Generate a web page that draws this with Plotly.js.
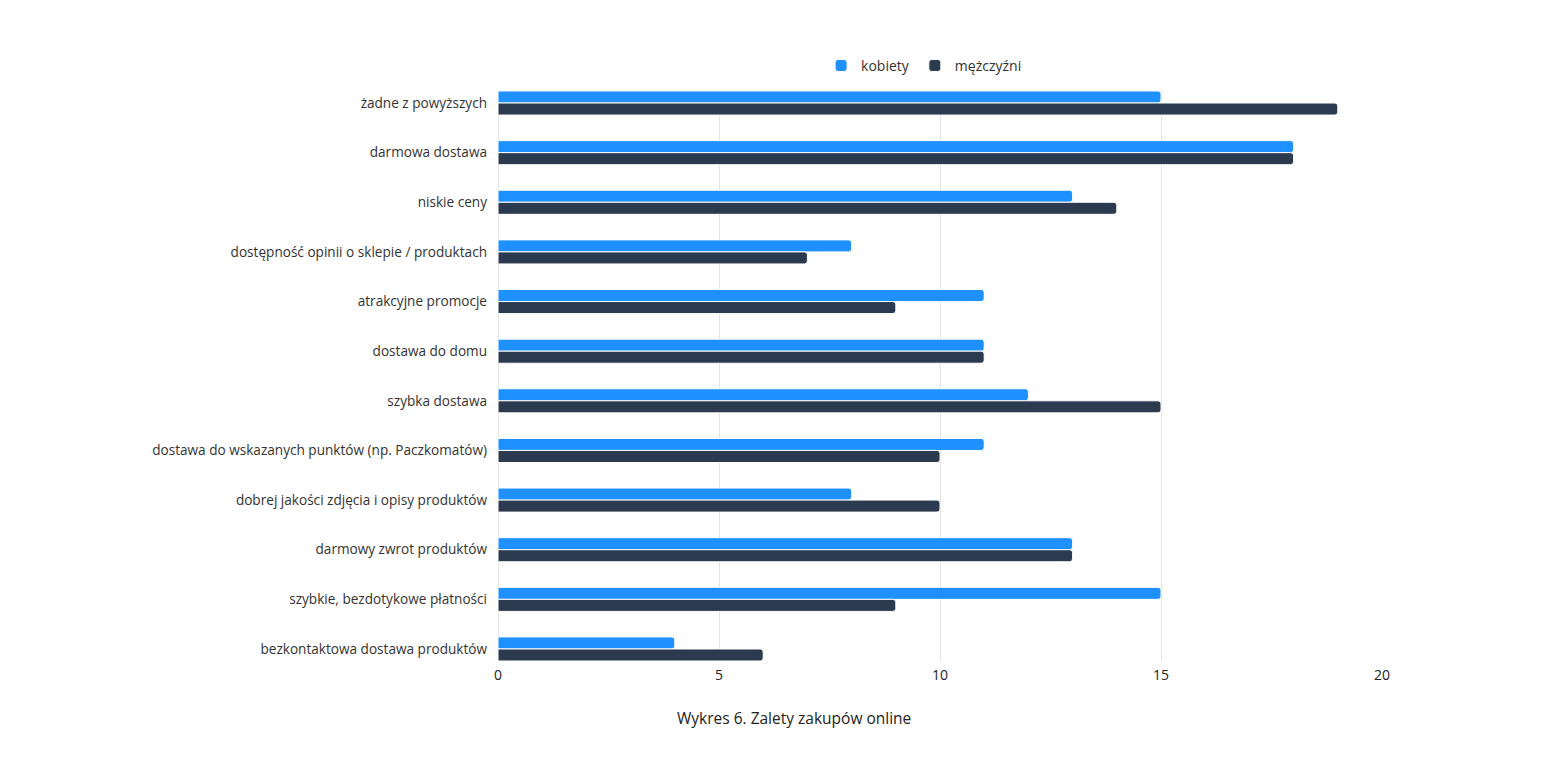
<!DOCTYPE html>
<html>
<head>
<meta charset="utf-8">
<script src="https://cdn.plot.ly/plotly-3.0.1.min.js"></script>
<style>html,body{margin:0;padding:0;background:#fff;}#chart{width:1560px;height:760px;}</style>
</head>
<body>
<div id="chart"></div>
<script>
const categories = [
  "żadne z powyższych",
  "darmowa dostawa",
  "niskie ceny",
  "dostępność opinii o sklepie / produktach",
  "atrakcyjne promocje",
  "dostawa do domu",
  "szybka dostawa",
  "dostawa do wskazanych punktów (np. Paczkomatów)",
  "dobrej jakości zdjęcia i opisy produktów",
  "darmowy zwrot produktów",
  "szybkie, bezdotykowe płatności",
  "bezkontaktowa dostawa produktów"
];
const kobiety = [15, 18, 13, 8, 11, 11, 12, 11, 8, 13, 15, 4];
const mezczyzni = [19, 18, 14, 7, 9, 11, 15, 10, 10, 13, 9, 6];
const seriesNames = ["kobiety", "mężczyźni"];
const xTicks = [0, 5, 10, 15, 20];
const chartTitle = "Wykres 6. Zalety zakupów online";

const font = "Open Sans, Noto Sans, sans-serif";
const traces = [
  {type: "bar", orientation: "h", name: seriesNames[0], y: categories, x: kobiety,
   marker: {color: "#1E90FF", line: {color: "#ffffff", width: 1}, cornerradius: 3},
   hoverinfo: "x+y"},
  {type: "bar", orientation: "h", name: seriesNames[1], y: categories, x: mezczyzni,
   marker: {color: "#2B3A4E", line: {color: "#ffffff", width: 1}, cornerradius: 3},
   hoverinfo: "x+y"}
];
const layout = {
  width: 1560, height: 760,
  margin: {l: 498, r: 178, t: 91, b: 99},
  paper_bgcolor: "#fff", plot_bgcolor: "#fff",
  font: {family: font, size: 13.6, color: "#333"},
  barmode: "group",
  bargap: 0.515, bargroupgap: 0,
  showlegend: true,
  legend: {orientation: "h", x: 0.482, xanchor: "center", y: 1.016, yanchor: "bottom",
           yref: "paper", font: {family: font, size: 14, color: "#333"}, itemwidth: 30, traceorder: "normal"},
  xaxis: {range: [0, 20], tickvals: xTicks, ticktext: xTicks.map(String), showgrid: true, gridcolor: "#e3e3e3",
          gridwidth: 1, zeroline: true, zerolinecolor: "#e3e3e3", showline: false, ticks: "",
          ticklabelstandoff: 4,
          tickfont: {family: font, size: 14, color: "#222"}, fixedrange: true},
  yaxis: {type: "category", categoryorder: "array", categoryarray: categories,
          range: [11.242, -0.242], showgrid: false, zeroline: false, showline: false, ticks: "",
          ticklabelstandoff: 10, tickfont: {family: font, size: 13.6, color: "#333"}, automargin: false, fixedrange: true},
  annotations: [{text: chartTitle, xref: "paper", yref: "paper", x: 0.335, y: -0.1, yanchor: "middle",
                 xanchor: "center", showarrow: false, font: {family: font, size: 15.5, color: "#222"}}]
};
Plotly.newPlot("chart", traces, layout, {displayModeBar: false, staticPlot: true});
</script>
</body>
</html>
